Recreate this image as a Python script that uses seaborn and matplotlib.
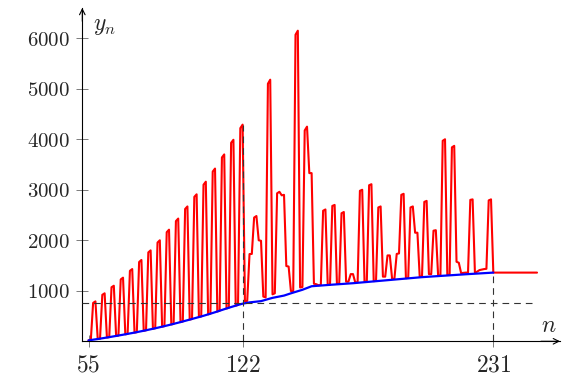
import numpy as np
import pandas as pd
import matplotlib
matplotlib.use("Agg")
import matplotlib.pyplot as plt
import seaborn as sns

# ---------------- data ----------------
red_n = list(range(55, 251))
red_y = [
    18, 25, 760, 790, 45, 52, 920, 950, 75, 82,              # 55-64
    1070, 1100, 106, 114, 1225, 1260, 138, 147, 1395, 1430,  # 65-74
    172, 181, 1570, 1610, 208, 218, 1760, 1800, 248, 258,    # 75-84
    1955, 2000, 290, 300, 2160, 2210, 334, 345, 2380, 2430,  # 85-94
    380, 392, 2620, 2670, 430, 442, 2860, 2910, 480, 492,    # 95-104
    3100, 3160, 533, 547, 3360, 3420, 590, 605, 3640, 3700,  # 105-114
    650, 664, 3930, 3990, 706, 720, 4220, 4290, 790, 800,    # 115-124
    1727, 1730, 2450, 2480, 2000, 1990, 885, 870, 5100, 5180,  # 125-134
    930, 950, 2930, 2960, 2890, 2900, 1490, 1480, 995, 990,  # 135-144
    6070, 6150, 1065, 1075, 4175, 4250, 3330, 3330, 1140, 1130,  # 145-154
    1110, 1115, 2585, 2610, 1120, 1120, 2680, 2700, 1140, 1140,  # 155-164
    2535, 2560, 1180, 1180, 1330, 1330, 1160, 1175, 2980, 3000,  # 165-174
    1180, 1185, 3090, 3110, 1190, 1200, 2650, 2670, 1280, 1280,  # 175-184
    1700, 1700, 1235, 1240, 1730, 1740, 2900, 2920, 1250, 1255,  # 185-194
    2650, 2670, 2150, 2150, 1280, 1285, 2760, 2780, 1330, 1330,  # 195-204
    2190, 2200, 1300, 1305, 3970, 4000, 1315, 1320, 3840, 3870,  # 205-214
    1575, 1555, 1350, 1355, 1360, 1360, 2800, 2810, 1360, 1380,  # 215-224
    1410, 1420, 1430, 1435, 2790, 2810, 1360, 1360, 1360, 1360,  # 225-234
    1360, 1360, 1360, 1360, 1360, 1360, 1360, 1360, 1360, 1360,  # 235-244
    1360, 1360, 1360, 1360, 1360, 1360,                        # 245-250
]

blue_n = [55, 60, 65, 70, 75, 80, 85, 90, 95, 100, 105, 110, 115, 120, 122,
          125, 130, 135, 140, 143, 148, 152, 160, 170, 180, 190, 200, 210, 220, 231]
blue_y = [18, 52, 90, 130, 172, 218, 268, 322, 380, 442, 505, 575, 650, 720, 745,
          770, 795, 860, 905, 950, 1020, 1090, 1118, 1150, 1190, 1230, 1270, 1300, 1330, 1360]

x_ticks = [55, 122, 231]
y_ticks = [1000, 2000, 3000, 4000, 5000, 6000]

h_ref = 750          # horizontal dashed level
h_ref_end = 248      # where it stops
v_refs = [122, 231]  # vertical dashed positions
v_tops = [4290, 1360]

# ---------------- style ----------------
sns.set_style("ticks")
plt.rcParams["mathtext.fontset"] = "cm"
plt.rcParams["font.family"] = ["DejaVu Serif"]

fig = plt.figure(figsize=(5.63, 3.79), dpi=100)
ax = fig.add_axes([0.1462, 0.0995, 0.8485, 0.8795])

red_df = pd.DataFrame({"n": red_n, "y": red_y})
blue_df = pd.DataFrame({"n": blue_n, "y": blue_y})

sns.lineplot(data=red_df, x="n", y="y", color="#ff0000", lw=1.5, ax=ax,
             zorder=2, estimator=None, sort=False)
sns.lineplot(data=blue_df, x="n", y="y", color="#0000ff", lw=1.6, ax=ax,
             zorder=3, estimator=None, sort=False)

xmin, xmax = 52.3, 260
ymin, ymax = 0, 6600
ax.set_xlim(xmin, xmax)
ax.set_ylim(ymin, ymax)

dash = (0, (6, 4.5))
ax.plot([xmin, h_ref_end], [h_ref, h_ref], color="#333333", lw=0.8, ls=dash, zorder=4)
for xv, top in zip(v_refs, v_tops):
    ax.plot([xv, xv], [ymin, top], color="#333333", lw=0.8, ls=dash, zorder=4)

for s in ["top", "right"]:
    ax.spines[s].set_visible(False)
for s in ["left", "bottom"]:
    ax.spines[s].set_linewidth(0.8)
    ax.spines[s].set_color("black")

ax.annotate("", xy=(0, 1.0), xytext=(0, 0.96), xycoords="axes fraction",
            arrowprops=dict(arrowstyle="->", lw=0.8, color="black",
                            shrinkA=0, shrinkB=0), annotation_clip=False)
ax.annotate("", xy=(1.0, 0), xytext=(0.96, 0), xycoords="axes fraction",
            arrowprops=dict(arrowstyle="->", lw=0.8, color="black",
                            shrinkA=0, shrinkB=0), annotation_clip=False)

ax.set_xticks(x_ticks)
ax.set_xticklabels([f"${v}$" for v in x_ticks])
ax.set_yticks(y_ticks)
ax.set_yticklabels([f"${v}$" for v in y_ticks])
ax.tick_params(direction="inout", length=8, width=0.6, color="#666666")
ax.tick_params(axis="x", labelsize=17, pad=5)
ax.tick_params(axis="y", labelsize=15, pad=5)
ax.set_xlabel("")
ax.set_ylabel("")

ax.text(0.047, 0.948, "$y_n$", transform=ax.transAxes, ha="center", va="center",
        fontsize=17)
ax.text(0.977, 0.048, "$n$", transform=ax.transAxes, ha="center", va="center",
        fontsize=17)

fig.savefig("out.png", dpi=100)
